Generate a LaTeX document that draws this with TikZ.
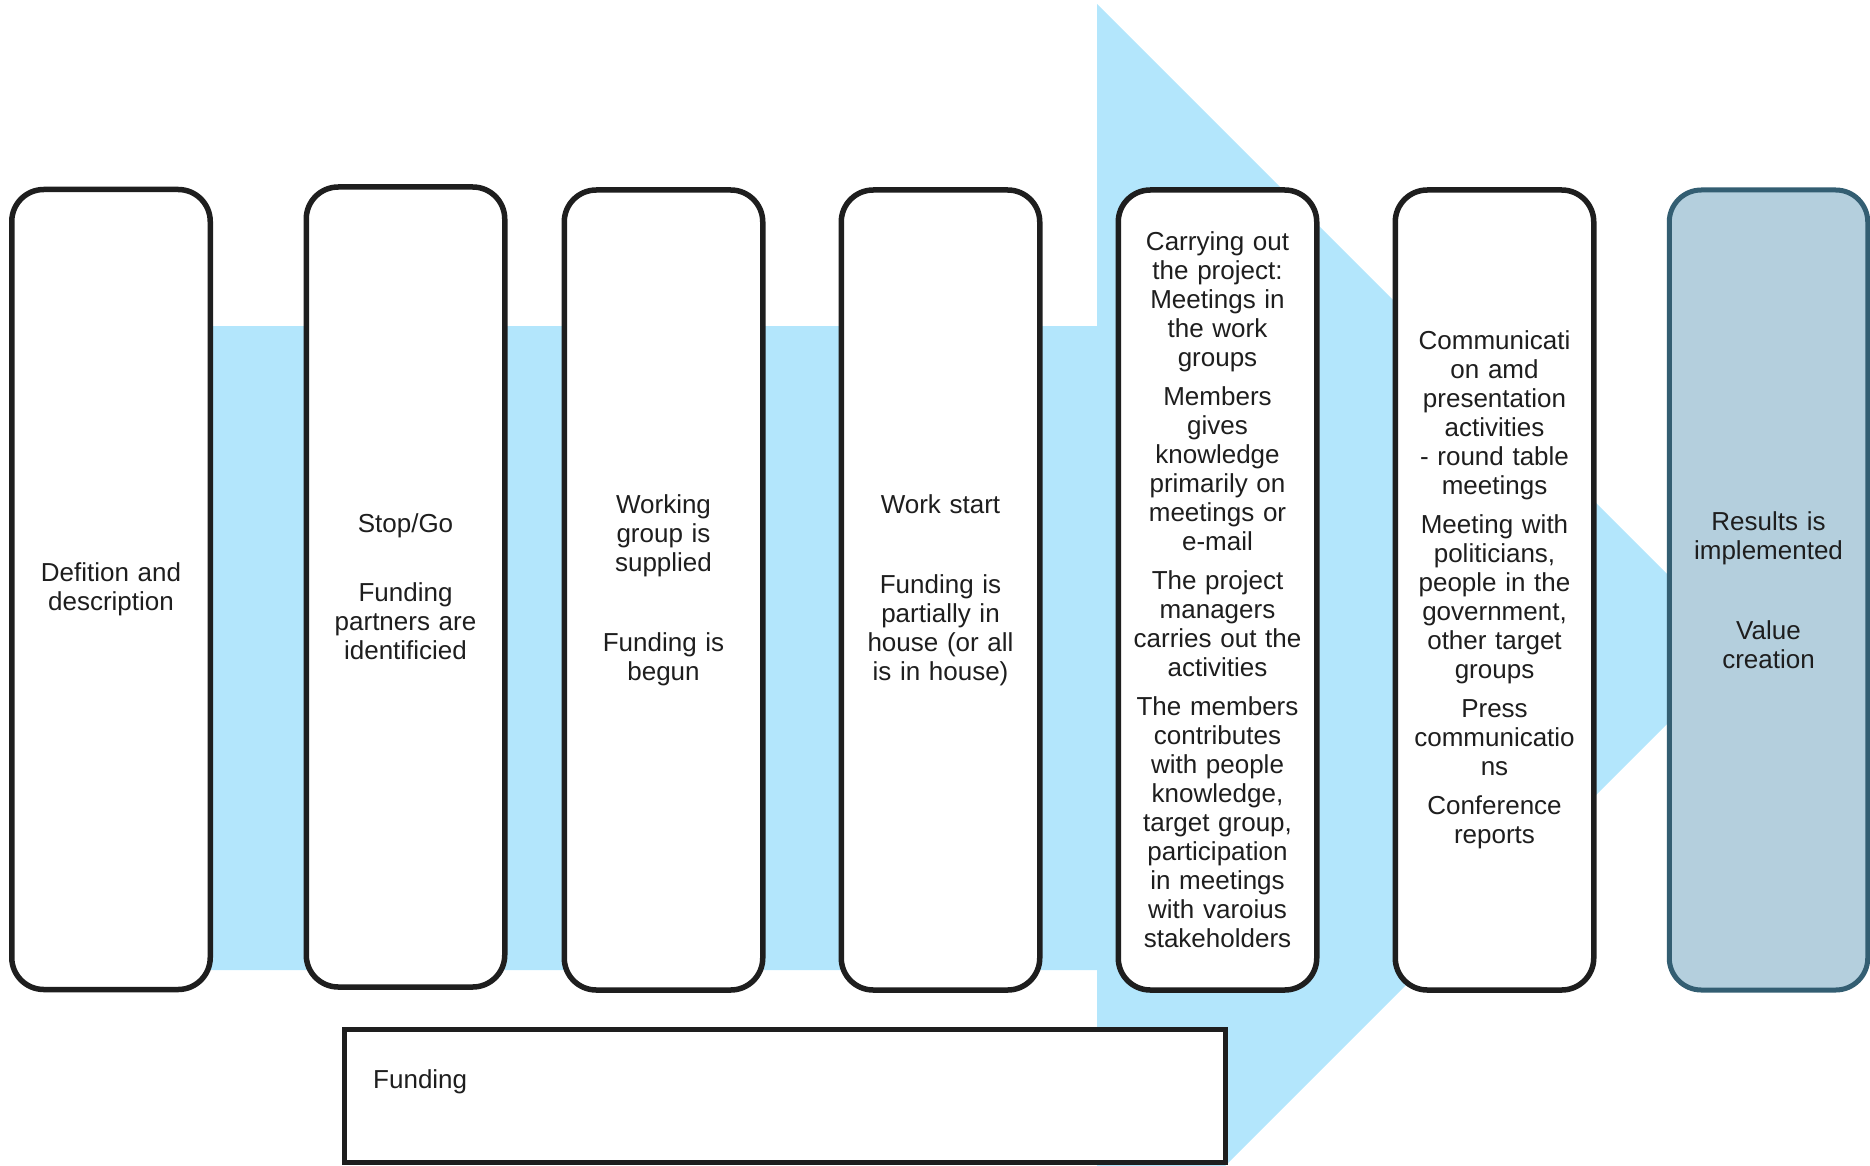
\documentclass[tikz,border=0pt]{standalone}
\usepackage{fontspec}
\setmainfont{Liberation Sans}
\definecolor{arrowblue}{RGB}{179,230,252}
\definecolor{resfill}{RGB}{180,207,221}
\definecolor{resdraw}{RGB}{51,94,114}
\definecolor{ink}{RGB}{30,30,30}
\begin{document}
\begin{tikzpicture}[x=1pt,y=-1pt,
  stage/.style={draw=ink, line width=5.5pt, fill=white, rounded corners=32pt,
    minimum width=198.5pt, minimum height=800pt, inner sep=0pt, align=center,
    text width=192pt, font=\fontsize{26}{29}\selectfont, text=ink},
  result/.style={stage, draw=resdraw, fill=resfill, line width=5pt},
  fundbox/.style={draw=ink, line width=5pt, fill=white, minimum width=881pt,
    minimum height=133.5pt, inner sep=0pt},
  fundtext/.style={anchor=west, inner sep=0pt, font=\fontsize{26}{29}\selectfont, text=ink}]
\useasboundingbox (0,0) rectangle (1870,1166);
\clip (0,0) rectangle (1870,1166);
% big arrow
\fill[arrowblue] (111,326) -- (1097,326) -- (1097,4) -- (1742,649) -- (1097,1294)
  -- (1097,970) -- (111,970) -- cycle;
% stages
\node[stage] (b1) at (111,589.5) {Defition and\\description};
\node[stage] (b2) at (405.5,587) {Stop/Go\\[40pt]Funding\\partners are\\identificied};
\node[stage] (b3) at (663.5,590) {Working\\group is\\supplied\\[51pt]Funding is\\begun};
\node[stage] (b4) at (940.5,590) {Work start\\[51pt]Funding is\\partially in\\house (or all\\is in house)};
\node[stage] (b5) at (1217.5,590) {Carrying out\\the project:\\Meetings in\\the work\\groups\\[10pt]Members\\gives\\knowledge\\primarily on\\meetings or\\e-mail\\[10pt]The project\\managers\\carries out the\\activities\\[10pt]The members\\contributes\\with people\\knowledge,\\target group,\\participation\\in meetings\\with varoius\\stakeholders};
\node[stage] (b6) at (1494.5,590) {Communicati\\on amd\\presentation\\activities\\- round table\\meetings\\[10pt]Meeting with\\politicians,\\people in the\\government,\\other target\\groups\\[10pt]Press\\communicatio\\ns\\[10pt]Conference\\reports};
\node[result] (b7) at (1768.5,590) {Results is\\implemented\\[51pt]Value\\creation};
% funding
\node[fundbox] (fund) at (785,1096) {};
\node[fundtext] (fundlabel) at (373,1082) {Funding};
\end{tikzpicture}
\end{document}
